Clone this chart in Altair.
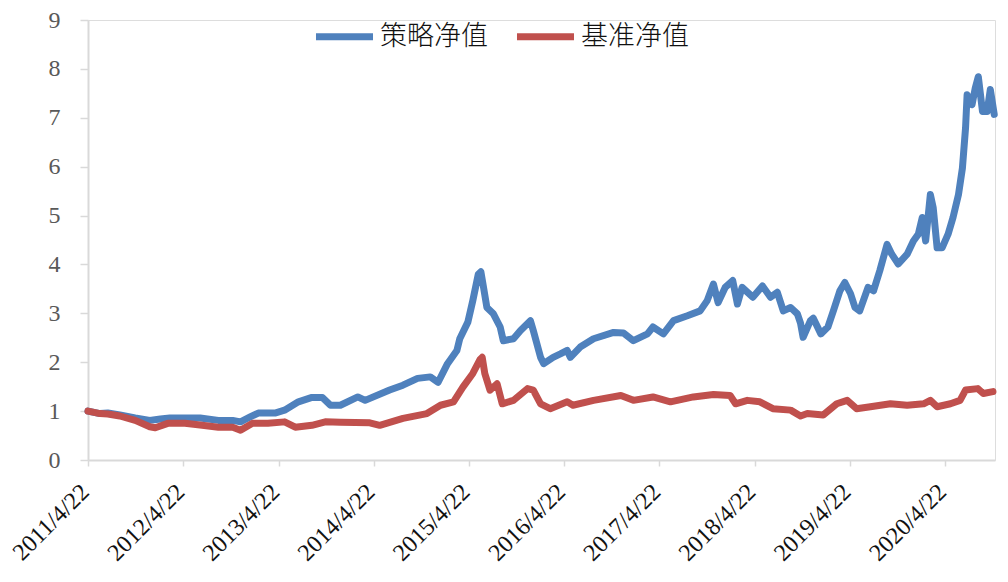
import altair as alt
import pandas as pd

# 策略净值 (strategy NAV)
strat_dates = [
    "2011-04-22", "2011-06-07", "2011-07-07", "2011-08-22", "2011-10-20", "2011-12-15",
    "2012-01-25", "2012-03-01", "2012-04-28", "2012-06-25", "2012-09-03", "2012-10-28",
    "2012-11-27", "2013-01-03", "2013-02-03", "2013-04-08", "2013-05-15", "2013-07-07",
    "2013-08-28", "2013-10-07", "2013-11-07", "2013-12-15", "2014-02-20", "2014-03-20",
    "2014-06-22", "2014-08-12", "2014-10-07", "2014-11-25", "2014-12-25", "2015-01-30",
    "2015-03-07", "2015-03-18", "2015-04-18", "2015-05-07", "2015-05-28", "2015-06-07",
    "2015-06-15", "2015-06-30", "2015-07-25", "2015-08-20", "2015-09-01", "2015-10-10",
    "2015-11-06", "2015-12-14", "2015-12-25", "2016-01-22", "2016-02-03", "2016-03-10",
    "2016-04-07", "2016-05-03", "2016-05-15", "2016-06-22", "2016-08-12", "2016-10-28",
    "2016-12-05", "2017-01-12", "2017-03-07", "2017-03-28", "2017-05-07", "2017-06-15",
    "2017-08-07", "2017-09-25", "2017-10-22", "2017-11-15", "2017-12-03", "2017-12-30",
    "2018-01-28", "2018-02-15", "2018-03-05", "2018-04-15", "2018-05-22", "2018-06-22",
    "2018-07-18", "2018-08-10", "2018-09-07", "2018-10-03", "2018-10-15", "2018-10-25",
    "2018-11-22", "2018-12-03", "2019-01-01", "2019-01-28", "2019-02-18", "2019-03-15",
    "2019-04-03", "2019-04-25", "2019-05-12", "2019-05-30", "2019-07-01", "2019-07-22",
    "2019-08-15", "2019-09-12", "2019-09-30", "2019-10-25", "2019-11-28", "2019-12-22",
    "2020-01-10", "2020-01-25", "2020-02-07", "2020-02-25", "2020-03-07", "2020-03-22",
    "2020-04-10", "2020-05-03", "2020-05-22", "2020-06-12", "2020-06-27", "2020-07-09",
    "2020-07-15", "2020-08-03", "2020-08-15", "2020-08-27", "2020-09-12", "2020-09-30",
    "2020-10-12", "2020-10-27",
]
strat_vals = [
    1.00, 0.95, 0.96, 0.92, 0.86, 0.81,
    0.84, 0.86, 0.86, 0.86, 0.81, 0.81,
    0.78, 0.88, 0.96, 0.96, 1.02, 1.19,
    1.28, 1.28, 1.12, 1.12, 1.29, 1.22,
    1.43, 1.53, 1.67, 1.70, 1.59, 1.97,
    2.24, 2.48, 2.82, 3.26, 3.80, 3.85,
    3.60, 3.12, 2.99, 2.72, 2.44, 2.48,
    2.65, 2.85, 2.65, 2.10, 1.97, 2.10,
    2.17, 2.24, 2.10, 2.31, 2.48, 2.61,
    2.60, 2.44, 2.58, 2.72, 2.58, 2.85,
    2.95, 3.05, 3.26, 3.60, 3.22, 3.53,
    3.67, 3.19, 3.53, 3.33, 3.56, 3.33,
    3.43, 3.05, 3.12, 2.99, 2.80, 2.51,
    2.85, 2.90, 2.58, 2.72, 3.05, 3.46,
    3.63, 3.40, 3.12, 3.05, 3.53, 3.46,
    3.87, 4.41, 4.21, 4.01, 4.21, 4.48,
    4.62, 4.96, 4.48, 5.43, 5.16, 4.34,
    4.34, 4.62, 4.96, 5.43, 5.97, 6.79,
    7.47, 7.27, 7.60, 7.84, 7.13, 7.13,
    7.58, 7.07,
]

# 基准净值 (benchmark NAV)
bench_dates = [
    "2011-04-22", "2011-06-07", "2011-07-07", "2011-08-22", "2011-10-20", "2011-12-15",
    "2012-01-05", "2012-02-22", "2012-04-28", "2012-07-03", "2012-09-03", "2012-10-28",
    "2012-11-27", "2013-01-12", "2013-03-12", "2013-05-15", "2013-06-25", "2013-08-28",
    "2013-10-18", "2013-12-15", "2014-04-07", "2014-05-15", "2014-08-12", "2014-11-12",
    "2015-01-03", "2015-02-22", "2015-03-30", "2015-05-07", "2015-06-03", "2015-06-12",
    "2015-06-22", "2015-07-12", "2015-08-08", "2015-08-28", "2015-10-10", "2015-12-03",
    "2015-12-25", "2016-01-22", "2016-02-28", "2016-05-03", "2016-05-25", "2016-08-12",
    "2016-11-25", "2017-01-12", "2017-03-28", "2017-06-03", "2017-08-30", "2017-11-15",
    "2018-01-18", "2018-02-08", "2018-03-25", "2018-05-12", "2018-07-01", "2018-09-07",
    "2018-10-15", "2018-11-10", "2019-01-10", "2019-03-03", "2019-04-12", "2019-05-18",
    "2019-07-10", "2019-09-25", "2019-11-28", "2020-01-30", "2020-02-25", "2020-03-22",
    "2020-05-12", "2020-06-18", "2020-07-09", "2020-08-25", "2020-09-15", "2020-10-22",
]
bench_vals = [
    1.00, 0.95, 0.94, 0.90, 0.81, 0.68,
    0.66, 0.75, 0.75, 0.71, 0.67, 0.67,
    0.61, 0.75, 0.75, 0.78, 0.67, 0.71,
    0.78, 0.77, 0.76, 0.71, 0.85, 0.95,
    1.12, 1.19, 1.49, 1.77, 2.05, 2.10,
    1.77, 1.43, 1.56, 1.15, 1.22, 1.46,
    1.43, 1.15, 1.05, 1.19, 1.12, 1.22,
    1.32, 1.22, 1.29, 1.19, 1.29, 1.34,
    1.32, 1.15, 1.22, 1.19, 1.05, 1.02,
    0.90, 0.95, 0.92, 1.15, 1.22, 1.05,
    1.09, 1.15, 1.12, 1.15, 1.22, 1.09,
    1.15, 1.22, 1.43, 1.46, 1.36, 1.40,
]

series_names = ["策略净值", "基准净值"]
series_colors = ["#4F81BD", "#C0504D"]
tick_years = list(range(2011, 2021))
y_ticks = list(range(0, 10))

df = pd.concat([
    pd.DataFrame({"date": strat_dates, "value": strat_vals, "series": series_names[0], "ord": 0}),
    pd.DataFrame({"date": bench_dates, "value": bench_vals, "series": series_names[1], "ord": 1}),
])

x_values = [alt.DateTime(year=y, month=4, date=22, utc=True) for y in tick_years]

chart = alt.Chart(df).mark_line(strokeWidth=7, strokeJoin="round", strokeCap="round").encode(
    x=alt.X(
        "date:T",
        scale=alt.Scale(
            type="utc",
            domain=[alt.DateTime(year=2011, month=4, date=22, utc=True),
                    alt.DateTime(year=2020, month=10, date=30, utc=True)],
            nice=False,
        ),
        axis=alt.Axis(
            title=None, values=x_values,
            labelExpr="utcFormat(datum.value, '%Y') + '/' + (utcmonth(datum.value) + 1) + '/' + utcdate(datum.value)",
            labelAngle=-45, labelAlign="right", labelBaseline="middle",
            labelFont="Liberation Serif", labelFontSize=24, labelColor="#111111",
            labelPadding=22, labelOffset=-3, labelOverlap=False, labelFlush=False,
            tickSize=6, tickColor="#D9D9D9", tickWidth=1.5,
            domainColor="#D9D9D9", domainWidth=2, grid=False,
        ),
    ),
    y=alt.Y(
        "value:Q",
        scale=alt.Scale(domain=[0, 9], nice=False),
        axis=alt.Axis(
            title=None, values=y_ticks, format="d",
            labelFont="Liberation Serif", labelFontSize=24, labelColor="#595959",
            labelPadding=20,
            tickSize=8, tickColor="#D9D9D9", tickWidth=1.5,
            domainColor="#D9D9D9", domainWidth=2, grid=False,
        ),
    ),
    color=alt.Color(
        "series:N",
        scale=alt.Scale(domain=series_names, range=series_colors),
        legend=alt.Legend(
            title=None, orient="none", legendX=224, legendY=-16, direction="horizontal",
            symbolType="stroke", symbolSize=3250, symbolStrokeWidth=7,
            labelFont="Noto Sans CJK SC", labelFontSize=27, labelFontWeight=300,
            labelColor="#111111", labelOffset=3,
            columnPadding=14, labelLimit=300, padding=0,
        ),
    ),
    order=alt.Order("ord:Q"),
).properties(
    width=907,
    height=440,
    autosize=alt.AutoSizeParams(type="none"),
    padding={"left": 80, "top": 12, "right": 5, "bottom": 110},
).configure_view(stroke=None).configure(background="white")

chart.save("out.html", embed_options={"renderer": "svg", "actions": False})
